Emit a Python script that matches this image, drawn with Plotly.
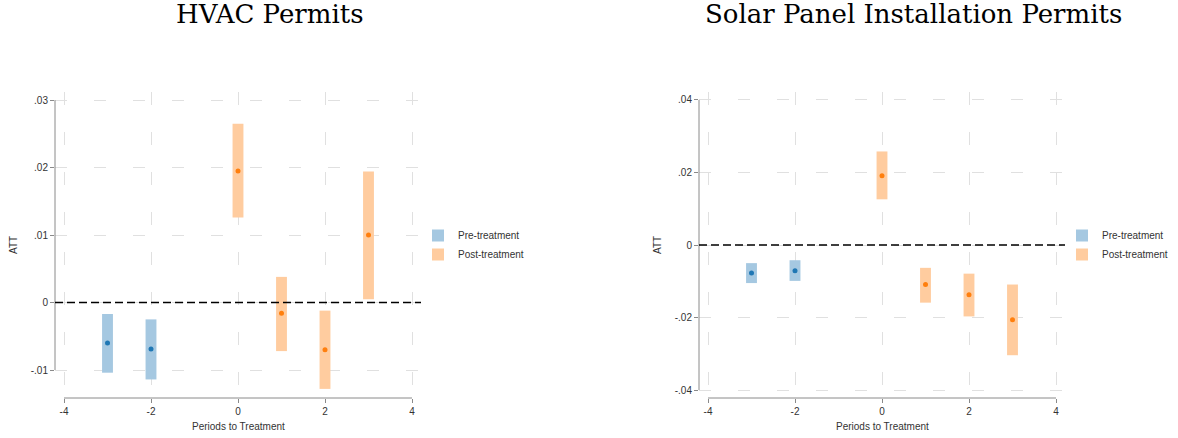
import plotly.graph_objects as go

# ---------------- data ----------------
periods_pre = [-3, -2]
periods_post = [0, 1, 2, 3]

hvac_pre_att = [-0.0060, -0.0069]
hvac_pre_lo = [-0.0104, -0.0114]
hvac_pre_hi = [-0.0017, -0.0025]
hvac_post_att = [0.0195, -0.0016, -0.0070, 0.0100]
hvac_post_lo = [0.0126, -0.0072, -0.0128, 0.0005]
hvac_post_hi = [0.0265, 0.0038, -0.0012, 0.0194]

solar_pre_att = [-0.0077, -0.0071]
solar_pre_lo = [-0.0105, -0.0099]
solar_pre_hi = [-0.0050, -0.0042]
solar_post_att = [0.0191, -0.0109, -0.0137, -0.0206]
solar_post_lo = [0.0126, -0.0159, -0.0197, -0.0304]
solar_post_hi = [0.0258, -0.0063, -0.0079, -0.0109]

x_ticks = [-4, -2, 0, 2, 4]
x_tick_labels = ["-4", "-2", "0", "2", "4"]
hvac_y_ticks = [-0.01, 0, 0.01, 0.02, 0.03]
hvac_y_labels = ["-.01", "0", ".01", ".02", ".03"]
solar_y_ticks = [-0.04, -0.02, 0, 0.02, 0.04]
solar_y_labels = ["-.04", "-.02", "0", ".02", ".04"]

titles = ["HVAC Permits", "Solar Panel Installation Permits"]
series_names = ["Pre-treatment", "Post-treatment"]

# ---------------- style ----------------
W, H = 1178, 438
BLUE, BLUE_BAR = "#1f77b4", "#a5c8e1"
ORANGE, ORANGE_BAR = "#ff7f0e", "#ffcc9f"
GRID = "#e0e0e0"
AXIS = "#8a8a8a"
TXT = "#333333"
FONT = "Liberation Sans"

def px(x):
    return x / W

def py(y):
    return (H - y) / H

dom_y = [py(398), py(92)]
doms_x = [[px(55), px(421)], [px(699), px(1065)]]
y_ranges = [[-0.01415, 0.0312], [-0.0422, 0.0422]]
x_range = [-4.207, 4.207]
title_x = [270, 913]
label_x = [238, 882]
att_x = [14, 658]
legend_x = [418, 1062]

fig = go.Figure()

panels = [
    (hvac_pre_att, hvac_pre_lo, hvac_pre_hi, hvac_post_att, hvac_post_lo, hvac_post_hi,
     hvac_y_ticks, hvac_y_labels),
    (solar_pre_att, solar_pre_lo, solar_pre_hi, solar_post_att, solar_post_lo, solar_post_hi,
     solar_y_ticks, solar_y_labels),
]

for i, (pa, pl, ph, qa, ql, qh, yt, yl) in enumerate(panels):
    xa = "x" if i == 0 else "x2"
    ya = "y" if i == 0 else "y2"
    leg = "legend" if i == 0 else "legend2"
    fig.add_trace(go.Bar(x=periods_pre, y=[h - l for h, l in zip(ph, pl)], base=pl,
                         width=0.25, marker=dict(color=BLUE_BAR, line=dict(width=0)),
                         name=series_names[0], xaxis=xa, yaxis=ya, legend=leg,
                         hoverinfo="skip"))
    fig.add_trace(go.Bar(x=periods_post, y=[h - l for h, l in zip(qh, ql)], base=ql,
                         width=0.25, marker=dict(color=ORANGE_BAR, line=dict(width=0)),
                         name=series_names[1], xaxis=xa, yaxis=ya, legend=leg,
                         hoverinfo="skip"))
    fig.add_trace(go.Scatter(x=periods_pre, y=pa, mode="markers",
                             marker=dict(color=BLUE, size=5), showlegend=False,
                             xaxis=xa, yaxis=ya))
    fig.add_trace(go.Scatter(x=periods_post, y=qa, mode="markers",
                             marker=dict(color=ORANGE, size=5), showlegend=False,
                             xaxis=xa, yaxis=ya))

    xk = "xaxis" if i == 0 else "xaxis2"
    yk = "yaxis" if i == 0 else "yaxis2"
    fig.update_layout(**{
        xk: dict(domain=doms_x[i], range=x_range, anchor=ya,
                 tickvals=x_ticks, ticktext=x_tick_labels,
                 showgrid=True, gridcolor=GRID, griddash="13px,27px", gridwidth=1,
                 zeroline=False, showline=False,
                 ticks="outside", ticklen=4, tickcolor=AXIS,
                 tickfont=dict(family=FONT, size=10, color=TXT)),
        yk: dict(domain=dom_y, range=y_ranges[i], anchor=xa,
                 tickvals=yt, ticktext=yl,
                 showgrid=True, gridcolor=GRID, griddash="12px,27px", gridwidth=1,
                 zeroline=False, showline=False,
                 ticks="outside", ticklen=4, tickcolor=AXIS,
                 tickfont=dict(family=FONT, size=10, color=TXT)),
    })

    xref_dom = "x domain" if i == 0 else "x2 domain"
    yref_dom = "y domain" if i == 0 else "y2 domain"
    # y axis line spanning tick range
    fig.add_shape(type="line", xref=xref_dom, yref=ya, x0=0, x1=0,
                  y0=yt[0], y1=yt[-1], line=dict(color=AXIS, width=1))
    # x axis line spanning tick range
    fig.add_shape(type="line", xref=xa, yref=yref_dom, x0=x_ticks[0], x1=x_ticks[-1],
                  y0=0, y1=0, line=dict(color=AXIS, width=1))
    # zero reference line
    fig.add_shape(type="line", xref=xref_dom, yref=ya, x0=0, x1=1, y0=0, y1=0,
                  line=dict(color="black", width=1.3, dash="8px,4px"))

    fig.add_annotation(text=titles[i], x=px(title_x[i]), y=py(14),
                       xref="paper", yref="paper", showarrow=False,
                       font=dict(family="DejaVu Serif", size=26, color="black"),
                       xanchor="center", yanchor="middle")
    fig.add_annotation(text="Periods to Treatment", x=px(label_x[i]),
                       y=py(426), xref="paper", yref="paper", showarrow=False,
                       font=dict(family=FONT, size=10, color=TXT),
                       xanchor="center", yanchor="middle")
    fig.add_annotation(text="ATT", x=px(att_x[i]), y=py(245),
                       xref="paper", yref="paper", showarrow=False, textangle=-90,
                       font=dict(family=FONT, size=10, color=TXT),
                       xanchor="center", yanchor="middle")

leg_style = dict(font=dict(family=FONT, size=10, color=TXT), bgcolor="rgba(0,0,0,0)",
                 xanchor="left", yanchor="middle", tracegroupgap=0,
                 itemwidth=30)
fig.update_layout(
    width=W, height=H,
    margin=dict(l=0, r=0, t=0, b=0),
    paper_bgcolor="white", plot_bgcolor="white",
    barmode="overlay",
    legend=dict(x=px(legend_x[0]), y=py(245), **leg_style),
    legend2=dict(x=px(legend_x[1]), y=py(245), **leg_style),
)

fig.write_html("out.html")
